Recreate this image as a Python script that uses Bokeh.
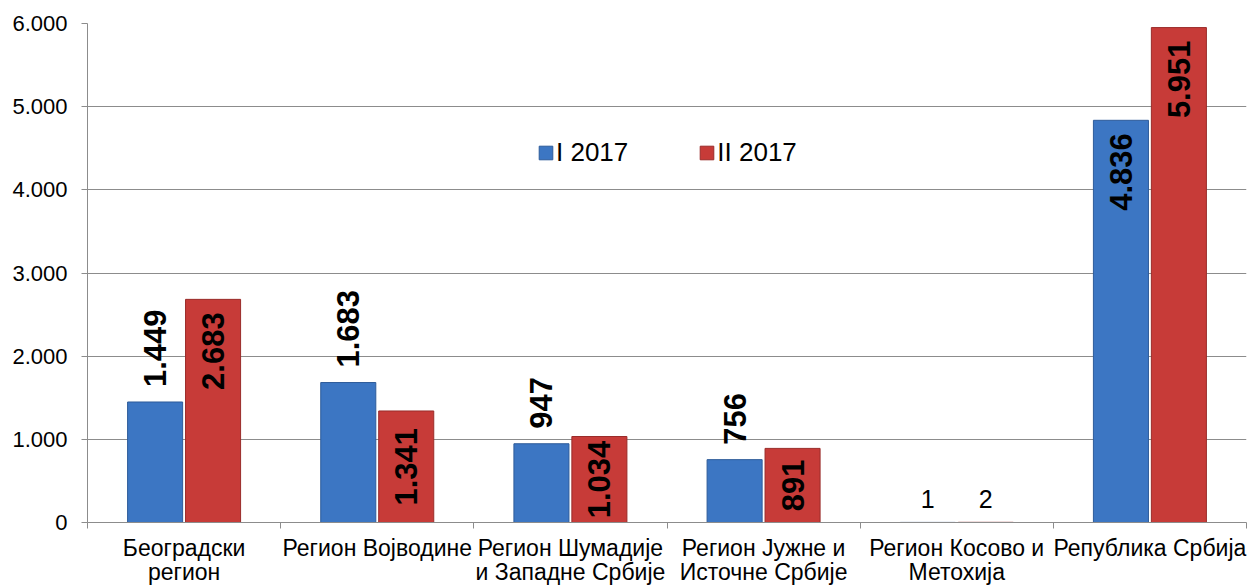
import numpy as np
from bokeh.plotting import figure
from bokeh.models import Range1d, FixedTicker, Legend, LegendItem, ColumnDataSource
from bokeh.core.properties import value
from bokeh.embed import file_html
from bokeh.resources import INLINE

# ---- data ----
categories = ["Београдски\nрегион", "Регион Војводине", "Регион Шумадије\nи Западне Србије",
              "Регион Јужне и\nИсточне Србије", "Регион Косово и\nМетохија", "Република Србија"]
series_names = ["I 2017", "II 2017"]
values_i = [1449, 1683, 947, 756, 1, 4836]
values_ii = [2683, 1341, 1034, 891, 2, 5951]
y_ticks = [0, 1000, 2000, 3000, 4000, 5000, 6000]
y_tick_labels = ["0", "1.000", "2.000", "3.000", "4.000", "5.000", "6.000"]

# label placement styles (Excel-like)
mode_i = ["out", "out", "out", "out", "plain", "in_end"]
mode_ii = ["in_end", "center", "center", "center", "plain", "in_end"]

FONT = "Liberation Sans"
BLUE = "#3C76C3"
BLUE_LINE = "#2E5C9A"
RED = "#C73B38"
RED_LINE = "#9A2C2A"
GRID = "#8C8C8C"

n = len(categories)
p = figure(width=1254, height=588, x_range=Range1d(0, n), y_range=Range1d(0, 6000),
           output_backend="svg", toolbar_location=None,
           min_border_left=87, min_border_right=8, min_border_top=23, min_border_bottom=65)
p.outline_line_color = None
p.background_fill_color = "white"

x_idx = np.arange(n)
xi = x_idx + 0.35
xii = x_idx + 0.65
bw = 0.285

ri = p.vbar(x=xi, top=values_i, bottom=0, width=bw, fill_color=BLUE, line_color=BLUE_LINE, line_width=1)
rii = p.vbar(x=xii, top=values_ii, bottom=0, width=bw, fill_color=RED, line_color=RED_LINE, line_width=1)

# axes
p.yaxis.ticker = FixedTicker(ticks=y_ticks)
p.yaxis.major_label_overrides = {t: l for t, l in zip(y_ticks, y_tick_labels)}
p.yaxis.major_label_text_font = FONT
p.yaxis.major_label_text_font_size = "22px"
p.yaxis.major_label_text_color = "black"
p.yaxis.major_tick_out = 6
p.yaxis.major_tick_in = 0
p.yaxis.minor_tick_out = 0
p.yaxis.minor_tick_in = 0
p.yaxis.major_label_standoff = 14
p.yaxis.axis_line_color = GRID
p.yaxis.major_tick_line_color = GRID

centers = [i + 0.5 for i in range(n)]
p.xaxis.ticker = FixedTicker(ticks=centers, minor_ticks=list(range(n + 1)))
p.xaxis.major_label_overrides = {c: l for c, l in zip(centers, categories)}
p.xaxis.major_label_text_font = FONT
p.xaxis.major_label_text_font_size = "23px"
p.xaxis.major_label_text_line_height = 0.95
p.xaxis.major_label_text_color = "black"
p.xaxis.major_tick_out = 0
p.xaxis.major_tick_in = 0
p.xaxis.minor_tick_out = 6
p.xaxis.minor_tick_in = 0
p.xaxis.minor_tick_line_color = GRID
p.xaxis.axis_line_color = GRID
p.xaxis.major_label_standoff = 6

p.xgrid.grid_line_color = None
p.ygrid.ticker = FixedTicker(ticks=y_ticks)
p.ygrid.grid_line_color = GRID
p.ygrid.grid_line_width = 1

# value labels
upp = 6000 / 500.0  # data units per pixel
def fmt(v):
    return f"{v:,}".replace(",", ".")

def add_labels(xs, vals, modes):
    rot = {"x": [], "y": [], "t": [], "align": []}
    plain = {"x": [], "y": [], "t": []}
    for x, v, m in zip(xs, vals, modes):
        if m == "out":
            rot["x"].append(x); rot["y"].append(v + 15 * upp); rot["t"].append(fmt(v)); rot["align"].append("left")
        elif m == "in_end":
            rot["x"].append(x); rot["y"].append(v - 13 * upp); rot["t"].append(fmt(v)); rot["align"].append("right")
        elif m == "center":
            rot["x"].append(x); rot["y"].append(v / 2.0); rot["t"].append(fmt(v)); rot["align"].append("center")
        else:
            plain["x"].append(x); plain["y"].append(v + 14 * upp); plain["t"].append(fmt(v))
    p.text(x="x", y="y", text="t", text_align="align", source=ColumnDataSource(rot), angle=np.pi / 2,
           text_baseline="middle", text_font=value(FONT), text_font_style="bold",
           text_font_size="31px", text_color="black")
    p.text(x="x", y="y", text="t", source=ColumnDataSource(plain), text_align="center",
           text_baseline="bottom", text_font=value(FONT), text_font_size="25px", text_color="black")

add_labels(xi, values_i, mode_i)
add_labels(xii, values_ii, mode_ii)

legend = Legend(items=[LegendItem(label=series_names[0], renderers=[ri]),
                       LegendItem(label=series_names[1], renderers=[rii])],
                orientation="horizontal", location=(450, 354))
legend.label_text_font = FONT
legend.label_text_font_size = "26px"
legend.label_text_color = "black"
legend.glyph_width = 17
legend.glyph_height = 17
legend.label_standoff = 2
legend.spacing = 70
legend.padding = 0
legend.margin = 0
legend.border_line_color = None
legend.background_fill_alpha = 0
p.add_layout(legend, "center")

open("out.html", "w").write(file_html(p, INLINE))
